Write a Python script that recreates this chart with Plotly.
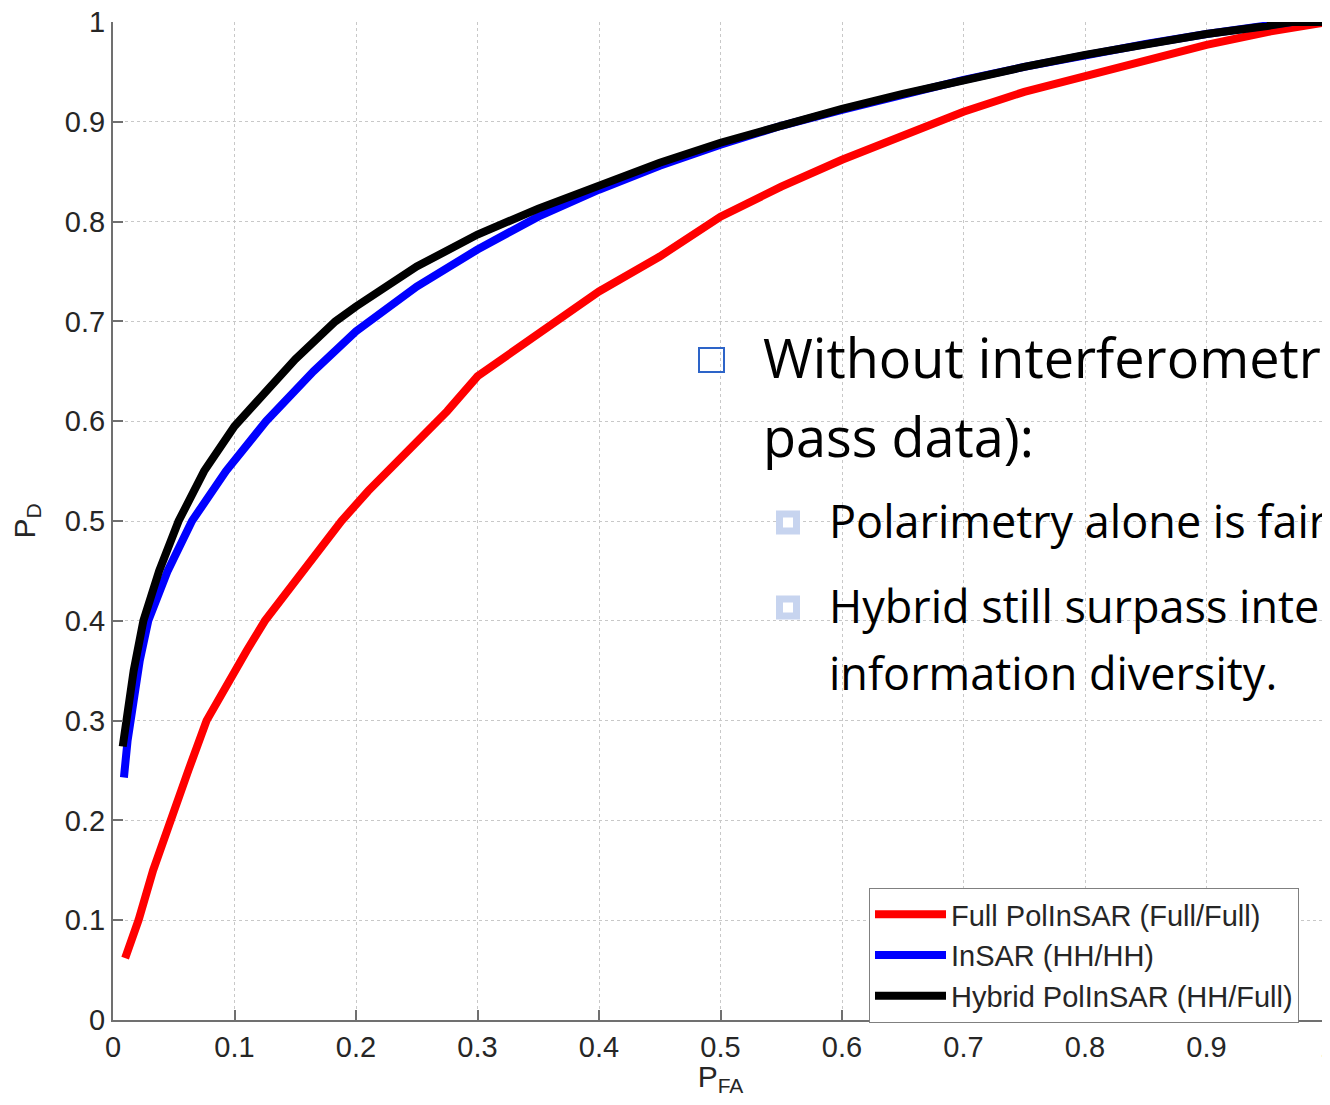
import plotly.graph_objects as go

# ---- data ----
full_pfa = [0.010, 0.021, 0.033, 0.047, 0.062, 0.077, 0.095, 0.110, 0.125, 0.150, 0.188, 0.210,
            0.250, 0.275, 0.300, 0.330, 0.364, 0.400, 0.450, 0.500, 0.550, 0.600, 0.650, 0.700,
            0.750, 0.800, 0.850, 0.900, 0.950, 1.000]
full_pd = [0.062, 0.100, 0.150, 0.200, 0.250, 0.300, 0.340, 0.370, 0.400, 0.440, 0.500, 0.530,
           0.580, 0.610, 0.645, 0.670, 0.700, 0.730, 0.765, 0.805, 0.835, 0.862, 0.886, 0.910,
           0.930, 0.946, 0.962, 0.977, 0.990, 1.000]

insar_pfa = [0.009, 0.012, 0.017, 0.022, 0.029, 0.045, 0.065, 0.093, 0.126, 0.165, 0.200, 0.250,
             0.300, 0.350, 0.400, 0.450, 0.500, 0.550, 0.600, 0.650, 0.700, 0.750, 0.800, 0.850,
             0.900, 0.950, 0.970, 1.000]
insar_pd = [0.243, 0.280, 0.320, 0.360, 0.400, 0.450, 0.500, 0.550, 0.600, 0.650, 0.690, 0.735,
            0.772, 0.805, 0.832, 0.856, 0.877, 0.896, 0.912, 0.928, 0.942, 0.955, 0.967, 0.978,
            0.988, 0.996, 1.000, 1.000]

hybrid_pfa = [0.008, 0.012, 0.017, 0.025, 0.038, 0.054, 0.075, 0.100, 0.125, 0.150, 0.183, 0.200,
              0.250, 0.300, 0.350, 0.400, 0.450, 0.500, 0.550, 0.600, 0.650, 0.700, 0.750, 0.800,
              0.850, 0.900, 0.950, 0.970, 1.000]
hybrid_pd = [0.274, 0.310, 0.350, 0.400, 0.450, 0.500, 0.550, 0.595, 0.630, 0.662, 0.700, 0.715,
             0.755, 0.787, 0.813, 0.837, 0.859, 0.879, 0.897, 0.913, 0.928, 0.942, 0.955, 0.967,
             0.978, 0.988, 0.996, 1.000, 1.000]

series_names = ["Full PolInSAR (Full/Full)", "InSAR (HH/HH)", "Hybrid PolInSAR (HH/Full)"]
series_colors = ["#FF0000", "#0000FF", "#000000"]

tick_vals = [0, 0.1, 0.2, 0.3, 0.4, 0.5, 0.6, 0.7, 0.8, 0.9, 1]
tick_text = ["0", "0.1", "0.2", "0.3", "0.4", "0.5", "0.6", "0.7", "0.8", "0.9", "1"]

bullet_main = ["Without interferometric data (single-", "pass data):"]
bullet_sub = ["Polarimetry alone is fair", "Hybrid still surpass interferometry in", "information diversity."]

fig = go.Figure()
for xs, ys, name, col in zip([full_pfa, insar_pfa, hybrid_pfa], [full_pd, insar_pd, hybrid_pd],
                             series_names, series_colors):
    fig.add_trace(go.Scatter(x=xs, y=ys, mode="lines", name=name,
                             line=dict(color=col, width=8)))

AX_FONT = "Liberation Sans, Arial"
axis_common = dict(
    range=[0, 1], tickvals=tick_vals, ticktext=tick_text,
    showline=True, linecolor="#707070", linewidth=2,
    ticks="inside", ticklen=10, tickwidth=2, tickcolor="#707070",
    showgrid=True, gridcolor="#c8c8c8", gridwidth=1, griddash="dot",
    zeroline=False, tickfont=dict(family=AX_FONT, size=29, color="#262626"),
    ticklabeloverflow="allow", automargin=False, mirror=False,
)
fig.update_xaxes(**axis_common, ticklabelstandoff=0,
                 title=dict(text="P<sub>FA</sub>", font=dict(family=AX_FONT, size=30, color="#262626"),
                            standoff=4))
fig.update_yaxes(**axis_common, ticklabelstandoff=0,
                 title=dict(text="P<sub>D</sub>", font=dict(family=AX_FONT, size=30, color="#262626"),
                            standoff=24))

# page offset: the page body has an 8 px margin, so the figure starts at (8, 8)
OFF = 8
ML, MT = 113 - OFF, 22 - OFF
W, H = 1330 - OFF, 1105 - 2 * OFF
MR = W - (1328 - OFF)
MB = H - (1020 - OFF)

def px(xp):
    return (xp - 113) / 1215.0
def py(yp):
    return (1020 - yp) / 998.0

TXT_FONT = "Open Sans"
ann = []
ann.append(dict(text=bullet_main[0], x=px(761), y=py(357), xanchor="left", yanchor="middle"))
ann.append(dict(text=bullet_main[1], x=px(761), y=py(436), xanchor="left", yanchor="middle"))
for a in ann:
    a.update(xref="paper", yref="paper", showarrow=False,
             font=dict(family=TXT_FONT, size=54, color="#000000"))
sub = []
sub.append(dict(text=bullet_sub[0], x=px(827), y=py(520), xanchor="left", yanchor="middle"))
sub.append(dict(text=bullet_sub[1], x=px(827), y=py(605), xanchor="left", yanchor="middle"))
sub.append(dict(text=bullet_sub[2], x=px(827), y=py(672), xanchor="left", yanchor="middle"))
for a in sub:
    a.update(xref="paper", yref="paper", showarrow=False,
             font=dict(family=TXT_FONT, size=45, color="#000000"))
fig.update_layout(annotations=ann + sub)

shapes = [
    dict(type="rect", xref="paper", yref="paper", x0=px(699), x1=px(724), y0=py(372), y1=py(348),
         line=dict(color="#2D64C8", width=2), fillcolor="rgba(0,0,0,0)"),
    dict(type="rect", xref="paper", yref="paper", x0=px(779.5), x1=px(796.5), y0=py(531), y1=py(514),
         line=dict(color="#C7D4EF", width=7), fillcolor="white"),
    dict(type="rect", xref="paper", yref="paper", x0=px(779.5), x1=px(796.5), y0=py(616), y1=py(599),
         line=dict(color="#C7D4EF", width=7), fillcolor="white"),
]
fig.update_layout(shapes=shapes)

fig.update_layout(
    width=W, height=H,
    margin=dict(l=ML, r=MR, t=MT, b=MB, pad=0, autoexpand=False),
    paper_bgcolor="white", plot_bgcolor="white",
    showlegend=True,
    legend=dict(x=px(869), y=py(888), xanchor="left", yanchor="top",
                bgcolor="white", bordercolor="#808080", borderwidth=1,
                itemwidth=71, tracegroupgap=0,
                font=dict(family=AX_FONT, size=29, color="#262626")),
)

fig.write_html("out.html")
